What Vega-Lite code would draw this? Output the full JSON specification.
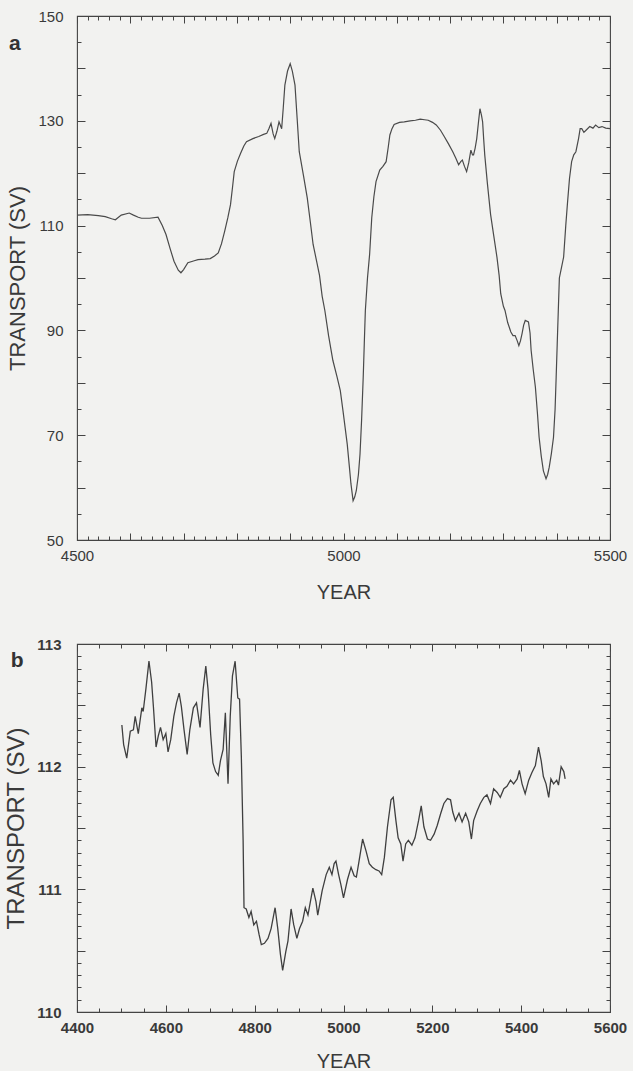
{
  "$schema": "https://vega.github.io/schema/vega-lite/v6.json",
  "background": "#f2f2f0",
  "padding": {"top": 8, "left": 4, "right": 5, "bottom": 4},
  "spacing": 33,
  "config": {
    "font": "Liberation Sans",
    "view": {"stroke": "#444444", "strokeWidth": 1.1},
    "axis": {"labelColor": "#3a3a3a", "titleColor": "#3a3a3a", "tickColor": "#444444", "tickWidth": 1, "domain": false, "grid": false, "labelOverlap": false, "labelFlush": false, "titleFontWeight": "normal", "labelFont": "Liberation Sans", "titleFont": "Liberation Sans"},
    "title": {"font": "Liberation Sans", "color": "#333333"}
  },
  "datasets": {
    "a": [
      {"year": 4500, "transport": 112.0}, {"year": 4520, "transport": 112.1}, {"year": 4540, "transport": 111.9}, {"year": 4553, "transport": 111.7}, {"year": 4565, "transport": 111.3}, {"year": 4572, "transport": 111.1}, {"year": 4583, "transport": 112.0}, {"year": 4598, "transport": 112.4}, {"year": 4606, "transport": 112.0}, {"year": 4615, "transport": 111.6}, {"year": 4621, "transport": 111.4}, {"year": 4636, "transport": 111.4}, {"year": 4652, "transport": 111.6}, {"year": 4660, "transport": 110.0}, {"year": 4667, "transport": 108.3}, {"year": 4675, "transport": 105.5}, {"year": 4682, "transport": 103.2}, {"year": 4690, "transport": 101.5}, {"year": 4695, "transport": 101.0}, {"year": 4700, "transport": 101.6}, {"year": 4708, "transport": 102.9}, {"year": 4720, "transport": 103.3}, {"year": 4727, "transport": 103.5}, {"year": 4740, "transport": 103.6}, {"year": 4750, "transport": 103.7}, {"year": 4758, "transport": 104.2}, {"year": 4765, "transport": 104.8}, {"year": 4771, "transport": 106.5}, {"year": 4777, "transport": 108.9}, {"year": 4783, "transport": 111.5}, {"year": 4788, "transport": 114.0}, {"year": 4792, "transport": 117.5}, {"year": 4795, "transport": 120.3}, {"year": 4801, "transport": 122.3}, {"year": 4807, "transport": 123.8}, {"year": 4813, "transport": 125.2}, {"year": 4818, "transport": 126.0}, {"year": 4830, "transport": 126.6}, {"year": 4841, "transport": 127.0}, {"year": 4850, "transport": 127.4}, {"year": 4856, "transport": 127.6}, {"year": 4860, "transport": 128.5}, {"year": 4864, "transport": 129.5}, {"year": 4868, "transport": 127.5}, {"year": 4871, "transport": 126.6}, {"year": 4875, "transport": 128.0}, {"year": 4879, "transport": 129.8}, {"year": 4884, "transport": 128.5}, {"year": 4887, "transport": 132.5}, {"year": 4890, "transport": 136.8}, {"year": 4895, "transport": 139.5}, {"year": 4900, "transport": 140.9}, {"year": 4904, "transport": 139.5}, {"year": 4909, "transport": 136.8}, {"year": 4913, "transport": 130.5}, {"year": 4917, "transport": 124.1}, {"year": 4925, "transport": 119.5}, {"year": 4932, "transport": 115.3}, {"year": 4938, "transport": 110.5}, {"year": 4943, "transport": 106.4}, {"year": 4950, "transport": 103.0}, {"year": 4955, "transport": 100.5}, {"year": 4960, "transport": 96.5}, {"year": 4965, "transport": 93.8}, {"year": 4972, "transport": 89.0}, {"year": 4980, "transport": 84.3}, {"year": 4988, "transport": 81.1}, {"year": 4994, "transport": 78.5}, {"year": 4999, "transport": 74.7}, {"year": 5003, "transport": 71.5}, {"year": 5007, "transport": 68.3}, {"year": 5011, "transport": 64.0}, {"year": 5014, "transport": 60.7}, {"year": 5018, "transport": 57.5}, {"year": 5021, "transport": 58.2}, {"year": 5024, "transport": 59.4}, {"year": 5028, "transport": 62.5}, {"year": 5031, "transport": 66.4}, {"year": 5034, "transport": 73.0}, {"year": 5037, "transport": 81.1}, {"year": 5039, "transport": 87.5}, {"year": 5041, "transport": 93.8}, {"year": 5045, "transport": 100.0}, {"year": 5049, "transport": 104.5}, {"year": 5053, "transport": 111.5}, {"year": 5057, "transport": 115.5}, {"year": 5061, "transport": 118.4}, {"year": 5068, "transport": 120.6}, {"year": 5074, "transport": 121.3}, {"year": 5080, "transport": 122.2}, {"year": 5084, "transport": 125.0}, {"year": 5087, "transport": 127.3}, {"year": 5091, "transport": 128.5}, {"year": 5095, "transport": 129.3}, {"year": 5105, "transport": 129.7}, {"year": 5114, "transport": 129.8}, {"year": 5125, "transport": 130.0}, {"year": 5135, "transport": 130.1}, {"year": 5144, "transport": 130.3}, {"year": 5152, "transport": 130.2}, {"year": 5159, "transport": 130.1}, {"year": 5167, "transport": 129.7}, {"year": 5174, "transport": 129.2}, {"year": 5182, "transport": 128.2}, {"year": 5189, "transport": 127.0}, {"year": 5197, "transport": 125.6}, {"year": 5205, "transport": 124.1}, {"year": 5211, "transport": 122.8}, {"year": 5216, "transport": 121.6}, {"year": 5220, "transport": 122.2}, {"year": 5223, "transport": 122.5}, {"year": 5227, "transport": 121.3}, {"year": 5231, "transport": 120.3}, {"year": 5235, "transport": 122.0}, {"year": 5239, "transport": 124.4}, {"year": 5242, "transport": 123.5}, {"year": 5244, "transport": 123.5}, {"year": 5247, "transport": 124.8}, {"year": 5250, "transport": 126.6}, {"year": 5253, "transport": 129.5}, {"year": 5256, "transport": 132.3}, {"year": 5259, "transport": 131.0}, {"year": 5261, "transport": 129.8}, {"year": 5263, "transport": 126.5}, {"year": 5265, "transport": 123.5}, {"year": 5270, "transport": 118.0}, {"year": 5276, "transport": 112.1}, {"year": 5282, "transport": 108.0}, {"year": 5288, "transport": 103.9}, {"year": 5292, "transport": 100.5}, {"year": 5295, "transport": 97.0}, {"year": 5300, "transport": 94.6}, {"year": 5303, "transport": 93.8}, {"year": 5308, "transport": 91.5}, {"year": 5314, "transport": 89.7}, {"year": 5318, "transport": 89.0}, {"year": 5322, "transport": 89.0}, {"year": 5326, "transport": 88.0}, {"year": 5329, "transport": 87.1}, {"year": 5332, "transport": 88.0}, {"year": 5335, "transport": 89.4}, {"year": 5338, "transport": 91.0}, {"year": 5341, "transport": 91.9}, {"year": 5347, "transport": 91.6}, {"year": 5350, "transport": 89.5}, {"year": 5352, "transport": 86.2}, {"year": 5356, "transport": 82.5}, {"year": 5360, "transport": 79.2}, {"year": 5364, "transport": 74.0}, {"year": 5367, "transport": 69.6}, {"year": 5371, "transport": 66.0}, {"year": 5375, "transport": 63.2}, {"year": 5380, "transport": 61.7}, {"year": 5383, "transport": 62.5}, {"year": 5386, "transport": 63.9}, {"year": 5390, "transport": 66.5}, {"year": 5394, "transport": 69.6}, {"year": 5397, "transport": 75.0}, {"year": 5399, "transport": 81.1}, {"year": 5401, "transport": 87.5}, {"year": 5403, "transport": 93.8}, {"year": 5405, "transport": 100.0}, {"year": 5408, "transport": 101.5}, {"year": 5413, "transport": 104.0}, {"year": 5417, "transport": 110.0}, {"year": 5420, "transport": 114.0}, {"year": 5424, "transport": 119.0}, {"year": 5428, "transport": 122.2}, {"year": 5432, "transport": 123.5}, {"year": 5436, "transport": 124.1}, {"year": 5441, "transport": 126.6}, {"year": 5444, "transport": 128.5}, {"year": 5447, "transport": 128.5}, {"year": 5451, "transport": 127.8}, {"year": 5455, "transport": 128.2}, {"year": 5462, "transport": 128.9}, {"year": 5468, "transport": 128.6}, {"year": 5473, "transport": 129.2}, {"year": 5479, "transport": 128.7}, {"year": 5485, "transport": 128.9}, {"year": 5492, "transport": 128.6}, {"year": 5500, "transport": 128.5}
    ],
    "b": [
      {"year": 4501, "transport": 112.34}, {"year": 4505, "transport": 112.18}, {"year": 4512, "transport": 112.07}, {"year": 4520, "transport": 112.29}, {"year": 4527, "transport": 112.30}, {"year": 4531, "transport": 112.41}, {"year": 4538, "transport": 112.27}, {"year": 4546, "transport": 112.48}, {"year": 4549, "transport": 112.45}, {"year": 4555, "transport": 112.63}, {"year": 4562, "transport": 112.86}, {"year": 4568, "transport": 112.69}, {"year": 4572, "transport": 112.49}, {"year": 4578, "transport": 112.16}, {"year": 4583, "transport": 112.25}, {"year": 4588, "transport": 112.32}, {"year": 4594, "transport": 112.22}, {"year": 4600, "transport": 112.27}, {"year": 4605, "transport": 112.12}, {"year": 4611, "transport": 112.22}, {"year": 4618, "transport": 112.41}, {"year": 4624, "transport": 112.52}, {"year": 4630, "transport": 112.60}, {"year": 4635, "transport": 112.49}, {"year": 4641, "transport": 112.30}, {"year": 4648, "transport": 112.10}, {"year": 4654, "transport": 112.30}, {"year": 4662, "transport": 112.48}, {"year": 4669, "transport": 112.52}, {"year": 4677, "transport": 112.32}, {"year": 4684, "transport": 112.63}, {"year": 4690, "transport": 112.82}, {"year": 4695, "transport": 112.63}, {"year": 4701, "transport": 112.26}, {"year": 4706, "transport": 112.03}, {"year": 4712, "transport": 111.96}, {"year": 4718, "transport": 111.93}, {"year": 4723, "transport": 112.05}, {"year": 4729, "transport": 112.14}, {"year": 4734, "transport": 112.44}, {"year": 4740, "transport": 111.86}, {"year": 4745, "transport": 112.41}, {"year": 4750, "transport": 112.74}, {"year": 4756, "transport": 112.86}, {"year": 4762, "transport": 112.56}, {"year": 4766, "transport": 112.55}, {"year": 4770, "transport": 112.08}, {"year": 4774, "transport": 111.40}, {"year": 4776, "transport": 110.85}, {"year": 4781, "transport": 110.84}, {"year": 4787, "transport": 110.77}, {"year": 4792, "transport": 110.82}, {"year": 4798, "transport": 110.71}, {"year": 4804, "transport": 110.74}, {"year": 4810, "transport": 110.63}, {"year": 4815, "transport": 110.55}, {"year": 4822, "transport": 110.56}, {"year": 4830, "transport": 110.60}, {"year": 4837, "transport": 110.68}, {"year": 4846, "transport": 110.85}, {"year": 4852, "transport": 110.68}, {"year": 4858, "transport": 110.47}, {"year": 4863, "transport": 110.34}, {"year": 4870, "transport": 110.49}, {"year": 4875, "transport": 110.58}, {"year": 4882, "transport": 110.84}, {"year": 4888, "transport": 110.71}, {"year": 4895, "transport": 110.60}, {"year": 4901, "transport": 110.68}, {"year": 4908, "transport": 110.74}, {"year": 4914, "transport": 110.85}, {"year": 4920, "transport": 110.79}, {"year": 4931, "transport": 111.01}, {"year": 4938, "transport": 110.90}, {"year": 4942, "transport": 110.79}, {"year": 4952, "transport": 110.99}, {"year": 4961, "transport": 111.12}, {"year": 4968, "transport": 111.18}, {"year": 4974, "transport": 111.12}, {"year": 4979, "transport": 111.21}, {"year": 4983, "transport": 111.23}, {"year": 4989, "transport": 111.12}, {"year": 4994, "transport": 111.04}, {"year": 5000, "transport": 110.93}, {"year": 5009, "transport": 111.08}, {"year": 5017, "transport": 111.18}, {"year": 5024, "transport": 111.11}, {"year": 5029, "transport": 111.10}, {"year": 5035, "transport": 111.23}, {"year": 5043, "transport": 111.41}, {"year": 5051, "transport": 111.31}, {"year": 5058, "transport": 111.21}, {"year": 5065, "transport": 111.18}, {"year": 5073, "transport": 111.16}, {"year": 5080, "transport": 111.15}, {"year": 5086, "transport": 111.12}, {"year": 5092, "transport": 111.26}, {"year": 5099, "transport": 111.51}, {"year": 5107, "transport": 111.73}, {"year": 5112, "transport": 111.75}, {"year": 5118, "transport": 111.56}, {"year": 5123, "transport": 111.42}, {"year": 5129, "transport": 111.37}, {"year": 5134, "transport": 111.23}, {"year": 5140, "transport": 111.37}, {"year": 5146, "transport": 111.40}, {"year": 5154, "transport": 111.36}, {"year": 5161, "transport": 111.42}, {"year": 5169, "transport": 111.56}, {"year": 5175, "transport": 111.68}, {"year": 5181, "transport": 111.51}, {"year": 5189, "transport": 111.41}, {"year": 5196, "transport": 111.40}, {"year": 5204, "transport": 111.45}, {"year": 5211, "transport": 111.52}, {"year": 5219, "transport": 111.62}, {"year": 5226, "transport": 111.70}, {"year": 5234, "transport": 111.74}, {"year": 5241, "transport": 111.73}, {"year": 5246, "transport": 111.63}, {"year": 5252, "transport": 111.56}, {"year": 5260, "transport": 111.62}, {"year": 5267, "transport": 111.55}, {"year": 5275, "transport": 111.62}, {"year": 5282, "transport": 111.55}, {"year": 5288, "transport": 111.41}, {"year": 5293, "transport": 111.56}, {"year": 5301, "transport": 111.64}, {"year": 5308, "transport": 111.70}, {"year": 5316, "transport": 111.75}, {"year": 5323, "transport": 111.77}, {"year": 5331, "transport": 111.70}, {"year": 5338, "transport": 111.82}, {"year": 5346, "transport": 111.79}, {"year": 5353, "transport": 111.75}, {"year": 5361, "transport": 111.82}, {"year": 5368, "transport": 111.84}, {"year": 5376, "transport": 111.89}, {"year": 5383, "transport": 111.86}, {"year": 5391, "transport": 111.90}, {"year": 5396, "transport": 111.97}, {"year": 5402, "transport": 111.86}, {"year": 5409, "transport": 111.78}, {"year": 5417, "transport": 111.89}, {"year": 5424, "transport": 111.95}, {"year": 5432, "transport": 112.01}, {"year": 5439, "transport": 112.16}, {"year": 5445, "transport": 112.05}, {"year": 5450, "transport": 111.92}, {"year": 5456, "transport": 111.86}, {"year": 5462, "transport": 111.75}, {"year": 5467, "transport": 111.90}, {"year": 5473, "transport": 111.86}, {"year": 5480, "transport": 111.89}, {"year": 5484, "transport": 111.85}, {"year": 5490, "transport": 112.00}, {"year": 5496, "transport": 111.96}, {"year": 5499, "transport": 111.90}
    ]
  },
  "vconcat": [
    {
      "width": 533,
      "height": 524,
      "title": {"text": "a", "anchor": "start", "frame": "bounds", "fontSize": 21, "fontWeight": "bold", "dy": 45, "dx": 2, "offset": 0},
      "data": {"name": "a"},
      "resolve": {"axis": {"x": "independent", "y": "independent"}},
      "layer": [
        {
          "mark": {"type": "line", "color": "#4a4a4a", "strokeWidth": 1.2},
          "encoding": {
            "x": {"field": "year", "type": "quantitative", "scale": {"domain": [4500, 5500], "nice": false, "zero": false},
              "axis": {"orient": "bottom", "title": "YEAR", "titleFontSize": 20, "titlePadding": 19, "labelFontSize": 15, "format": "d",
                "values": [4500,4600,4700,4800,4900,5000,5100,5200,5300,5400,5500],
                "labelExpr": "datum.value % 500 === 0 ? datum.label : ''",
                "offset": -7, "tickSize": 7, "labelPadding": 8}},
            "y": {"field": "transport", "type": "quantitative", "scale": {"domain": [50, 150], "nice": false, "zero": false},
              "axis": {"orient": "left", "title": "TRANSPORT (SV)", "titleFontSize": 22, "titlePadding": 8, "labelFontSize": 15,
                "values": [50,60,70,80,90,100,110,120,130,140,150],
                "labelExpr": "datum.value % 20 === 10 ? datum.label : ''",
                "offset": -8, "tickSize": 8, "labelPadding": 14}}
          }
        },
        {
          "mark": {"type": "line", "opacity": 0},
          "encoding": {
            "x": {"field": "year", "type": "quantitative",
              "axis": {"orient": "bottom", "title": null, "labels": false, "offset": -4, "tickSize": 4,
                "values": [4520,4540,4560,4580,4620,4640,4660,4680,4720,4740,4760,4780,4820,4840,4860,4880,4920,4940,4960,4980,5020,5040,5060,5080,5120,5140,5160,5180,5220,5240,5260,5280,5320,5340,5360,5380,5420,5440,5460,5480]}},
            "y": {"field": "transport", "type": "quantitative",
              "axis": {"orient": "left", "title": null, "labels": false, "offset": -4, "tickSize": 4,
                "values": [55,65,75,85,95,105,115,125,135,145]}}
          }
        },
        {
          "mark": {"type": "line", "opacity": 0},
          "encoding": {
            "x": {"field": "year", "type": "quantitative",
              "axis": {"orient": "top", "title": null, "labels": false, "offset": -7, "tickSize": 7,
                "values": [4500,4600,4700,4800,4900,5000,5100,5200,5300,5400,5500]}},
            "y": {"field": "transport", "type": "quantitative",
              "axis": {"orient": "right", "title": null, "labels": false, "offset": -8, "tickSize": 8,
                "values": [50,60,70,80,90,100,110,120,130,140,150]}}
          }
        },
        {
          "mark": {"type": "line", "opacity": 0},
          "encoding": {
            "x": {"field": "year", "type": "quantitative",
              "axis": {"orient": "top", "title": null, "labels": false, "offset": -4, "tickSize": 4,
                "values": [4520,4540,4560,4580,4620,4640,4660,4680,4720,4740,4760,4780,4820,4840,4860,4880,4920,4940,4960,4980,5020,5040,5060,5080,5120,5140,5160,5180,5220,5240,5260,5280,5320,5340,5360,5380,5420,5440,5460,5480]}},
            "y": {"field": "transport", "type": "quantitative",
              "axis": {"orient": "right", "title": null, "labels": false, "offset": -4, "tickSize": 4,
                "values": [55,65,75,85,95,105,115,125,135,145]}}
          }
        }
      ]
    },
    {
      "width": 533,
      "height": 368,
      "title": {"text": "b", "anchor": "start", "frame": "bounds", "fontSize": 21, "fontWeight": "bold", "dy": 34, "dx": 6, "offset": 0},
      "data": {"name": "b"},
      "resolve": {"axis": {"x": "independent", "y": "independent"}},
      "layer": [
        {
          "mark": {"type": "line", "color": "#3f3f3f", "strokeWidth": 1.3},
          "encoding": {
            "x": {"field": "year", "type": "quantitative", "scale": {"domain": [4400, 5600], "nice": false, "zero": false},
              "axis": {"orient": "bottom", "title": "YEAR", "titleFontSize": 20, "titlePadding": 16, "labelFontSize": 15, "labelFontWeight": "bold", "format": "d",
                "values": [4400,4600,4800,5000,5200,5400,5600],
                "offset": -7, "tickSize": 7, "labelPadding": 8}},
            "y": {"field": "transport", "type": "quantitative", "scale": {"domain": [110, 113], "nice": false, "zero": false},
              "axis": {"orient": "left", "title": "TRANSPORT (SV)", "titleFontSize": 24, "titlePadding": 8, "labelFontSize": 15, "labelFontWeight": "bold",
                "values": [110,110.5,111,111.5,112,112.5,113],
                "labelExpr": "round(datum.value * 10) % 10 === 0 ? format(datum.value, 'd') : ''",
                "offset": -8, "tickSize": 8, "labelPadding": 16}}
          }
        },
        {
          "mark": {"type": "line", "opacity": 0},
          "encoding": {
            "x": {"field": "year", "type": "quantitative",
              "axis": {"orient": "bottom", "title": null, "labels": false, "offset": -4, "tickSize": 4,
                "values": [4450,4500,4550,4650,4700,4750,4850,4900,4950,5050,5100,5150,5250,5300,5350,5450,5500,5550]}},
            "y": {"field": "transport", "type": "quantitative",
              "axis": {"orient": "left", "title": null, "labels": false, "offset": -4, "tickSize": 4,
                "values": [110.1,110.2,110.3,110.4,110.6,110.7,110.8,110.9,111.1,111.2,111.3,111.4,111.6,111.7,111.8,111.9,112.1,112.2,112.3,112.4,112.6,112.7,112.8,112.9]}}
          }
        },
        {
          "mark": {"type": "line", "opacity": 0},
          "encoding": {
            "x": {"field": "year", "type": "quantitative",
              "axis": {"orient": "top", "title": null, "labels": false, "offset": -7, "tickSize": 7,
                "values": [4400,4600,4800,5000,5200,5400,5600]}},
            "y": {"field": "transport", "type": "quantitative",
              "axis": {"orient": "right", "title": null, "labels": false, "offset": -8, "tickSize": 8,
                "values": [110,110.5,111,111.5,112,112.5,113]}}
          }
        },
        {
          "mark": {"type": "line", "opacity": 0},
          "encoding": {
            "x": {"field": "year", "type": "quantitative",
              "axis": {"orient": "top", "title": null, "labels": false, "offset": -4, "tickSize": 4,
                "values": [4450,4500,4550,4650,4700,4750,4850,4900,4950,5050,5100,5150,5250,5300,5350,5450,5500,5550]}},
            "y": {"field": "transport", "type": "quantitative",
              "axis": {"orient": "right", "title": null, "labels": false, "offset": -4, "tickSize": 4,
                "values": [110.1,110.2,110.3,110.4,110.6,110.7,110.8,110.9,111.1,111.2,111.3,111.4,111.6,111.7,111.8,111.9,112.1,112.2,112.3,112.4,112.6,112.7,112.8,112.9]}}
          }
        }
      ]
    }
  ]
}
